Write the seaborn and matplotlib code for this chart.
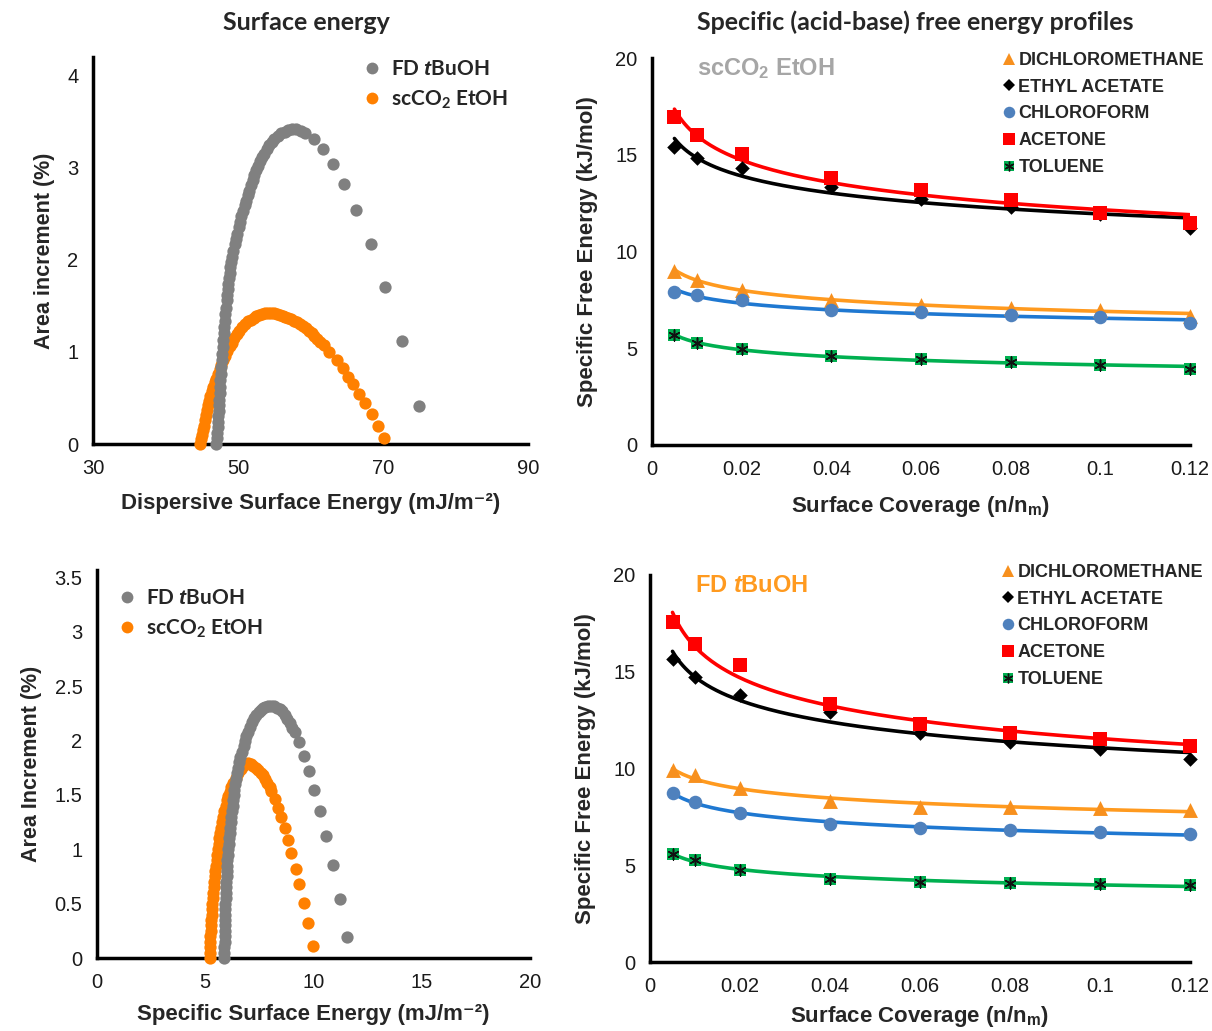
import numpy as np
import pandas as pd
import matplotlib
matplotlib.use('Agg')
import matplotlib.pyplot as plt
import seaborn as sns
from matplotlib.lines import Line2D
from matplotlib.font_manager import FontProperties

# ---- surface energy distributions
# top left: dispersive surface energy, FD tBuOH (grey) and scCO2 EtOH (orange)
tl_fd_x = [47.00, 47.06, 47.12, 47.18, 47.25, 47.30, 47.34, 47.38, 47.42, 47.46, 47.51, 47.56, 47.62,
           47.68, 47.75, 47.82, 47.89, 47.96, 48.04, 48.11, 48.19, 48.27, 48.35, 48.43, 48.51, 48.58,
           48.66, 48.75, 48.84, 48.93, 49.07, 49.21, 49.37, 49.54, 49.72, 49.91, 50.07, 50.24, 50.46,
           50.69, 50.93, 51.16, 51.35, 51.53, 51.76, 52.00, 52.23, 52.46, 52.73, 53.01, 53.31, 53.61,
           53.95, 54.30, 54.65, 55.00, 55.45, 55.93, 56.43, 56.94, 57.47, 58.00, 58.65, 59.30, 60.46,
           61.70, 63.10, 64.60, 66.30, 68.30, 70.30, 72.60, 75.00]
tl_fd_y = [0.00, 0.06, 0.12, 0.18, 0.24, 0.30, 0.36, 0.42, 0.48, 0.55, 0.62, 0.69, 0.76,
           0.84, 0.91, 0.98, 1.05, 1.13, 1.20, 1.27, 1.34, 1.41, 1.48, 1.56, 1.62, 1.68,
           1.74, 1.80, 1.86, 1.92, 1.98, 2.03, 2.10, 2.17, 2.23, 2.28, 2.35, 2.41, 2.47,
           2.53, 2.59, 2.64, 2.70, 2.75, 2.81, 2.86, 2.92, 2.97, 3.02, 3.07, 3.11, 3.15,
           3.20, 3.24, 3.28, 3.31, 3.34, 3.37, 3.39, 3.41, 3.42, 3.42, 3.40, 3.37, 3.31,
           3.20, 3.04, 2.82, 2.54, 2.17, 1.70, 1.12, 0.41]
tl_sc_x = [44.80, 44.90, 45.00, 45.12, 45.25, 45.38, 45.52, 45.67, 45.83, 46.00, 46.18, 46.37, 46.57,
           46.78, 47.00, 47.23, 47.47, 47.72, 47.98, 48.25, 48.55, 48.85, 49.17, 49.50, 49.85, 50.20,
           50.57, 50.95, 51.35, 51.75, 52.15, 52.55, 52.95, 53.35, 53.75, 54.15, 54.55, 54.95, 55.35,
           55.75, 56.15, 56.55, 56.95, 57.35, 57.75, 58.15, 58.55, 58.95, 59.35, 59.75, 60.15, 60.55,
           60.95, 61.35, 61.80, 62.60, 63.60, 64.50, 65.20, 65.90, 66.70, 67.50, 68.50, 69.35, 70.10]
tl_sc_y = [0.00, 0.05, 0.10, 0.15, 0.20, 0.26, 0.31, 0.37, 0.42, 0.47, 0.52, 0.57, 0.62,
           0.67, 0.71, 0.76, 0.81, 0.86, 0.91, 0.96, 1.01, 1.06, 1.10, 1.15, 1.19, 1.23,
           1.27, 1.30, 1.33, 1.35, 1.37, 1.39, 1.40, 1.41, 1.42, 1.42, 1.42, 1.42, 1.41,
           1.40, 1.39, 1.38, 1.37, 1.36, 1.34, 1.32, 1.30, 1.28, 1.26, 1.23, 1.20, 1.17,
           1.14, 1.11, 1.07, 1.00, 0.91, 0.82, 0.73, 0.65, 0.54, 0.44, 0.33, 0.19, 0.07]

# bottom left: specific surface energy
bl_fd_x = [5.870, 5.877, 5.885, 5.890, 5.895, 5.900, 5.905, 5.912, 5.920, 5.927, 5.935, 5.942, 5.950,
           5.960, 5.970, 5.982, 5.995, 6.007, 6.020, 6.040, 6.060, 6.085, 6.110, 6.135, 6.160, 6.185,
           6.210, 6.235, 6.260, 6.290, 6.320, 6.350, 6.380, 6.420, 6.460, 6.510, 6.560, 6.620, 6.700,
           6.780, 6.830, 6.900, 6.980, 7.060, 7.150, 7.250, 7.360, 7.470, 7.570, 7.670, 7.780, 7.900,
           8.050, 8.180, 8.310, 8.440, 8.560, 8.670, 8.780, 8.900, 9.020, 9.140, 9.320, 9.550, 9.770,
           10.030, 10.290, 10.570, 10.880, 11.220, 11.570]
bl_fd_y = [0.00, 0.05, 0.10, 0.15, 0.20, 0.25, 0.30, 0.35, 0.40, 0.45, 0.50, 0.55, 0.60,
           0.65, 0.70, 0.75, 0.80, 0.85, 0.90, 0.95, 1.00, 1.05, 1.10, 1.15, 1.20, 1.25,
           1.30, 1.35, 1.40, 1.45, 1.50, 1.55, 1.60, 1.65, 1.70, 1.75, 1.80, 1.85, 1.90,
           1.95, 2.00, 2.04, 2.08, 2.13, 2.17, 2.21, 2.24, 2.265, 2.285, 2.30, 2.31, 2.32,
           2.32, 2.315, 2.30, 2.29, 2.27, 2.24, 2.20, 2.16, 2.12, 2.08, 1.99, 1.86, 1.72,
           1.55, 1.35, 1.12, 0.86, 0.54, 0.19]
bl_sc_x = [5.200, 5.205, 5.215, 5.225, 5.235, 5.245, 5.253, 5.270, 5.290, 5.310, 5.330, 5.345, 5.360,
           5.385, 5.410, 5.440, 5.470, 5.495, 5.525, 5.555, 5.585, 5.615, 5.650, 5.700, 5.740, 5.780,
           5.820, 5.880, 5.940, 6.000, 6.060, 6.130, 6.210, 6.290, 6.400, 6.520, 6.630, 6.750, 6.870,
           6.980, 7.100, 7.210, 7.330, 7.440, 7.560, 7.670, 7.770, 7.870, 7.970, 8.060, 8.210, 8.370,
           8.520, 8.670, 8.830, 8.980, 9.170, 9.340, 9.570, 9.750, 9.980]
bl_sc_y = [0.00, 0.05, 0.10, 0.15, 0.20, 0.25, 0.30, 0.35, 0.40, 0.45, 0.50, 0.55, 0.60,
           0.65, 0.70, 0.75, 0.80, 0.85, 0.90, 0.95, 1.00, 1.05, 1.10, 1.15, 1.20, 1.25,
           1.30, 1.35, 1.40, 1.45, 1.49, 1.53, 1.57, 1.61, 1.66, 1.70, 1.74, 1.77, 1.785,
           1.79, 1.785, 1.77, 1.75, 1.73, 1.705, 1.68, 1.645, 1.61, 1.575, 1.54, 1.46, 1.38,
           1.30, 1.20, 1.09, 0.97, 0.82, 0.68, 0.51, 0.32, 0.11]

# ---- specific free energy profiles (kJ/mol) vs surface coverage
coverage = [0.005, 0.01, 0.02, 0.04, 0.06, 0.08, 0.1, 0.12]
probes = ['DICHLOROMETHANE', 'ETHYL ACETATE', 'CHLOROFORM', 'ACETONE', 'TOLUENE']

sc_dcm = [9.00, 8.54, 8.03, 7.51, 7.26, 7.08, 6.96, 6.69]
sc_ea = [15.40, 14.84, 14.29, 13.34, 12.69, 12.32, 11.94, 11.20]
sc_chl = [7.91, 7.74, 7.48, 6.96, 6.85, 6.71, 6.60, 6.28]
sc_ace = [16.95, 16.00, 15.03, 13.81, 13.17, 12.66, 12.00, 11.49]
sc_tol = [5.66, 5.29, 4.94, 4.60, 4.43, 4.31, 4.13, 3.95]

fd_dcm = [9.91, 9.66, 9.00, 8.33, 8.02, 8.02, 7.95, 7.88]
fd_ea = [15.66, 14.71, 13.79, 12.93, 11.84, 11.38, 11.00, 10.48]
fd_chl = [8.74, 8.28, 7.72, 7.12, 6.90, 6.84, 6.72, 6.60]
fd_ace = [17.55, 16.43, 15.34, 13.33, 12.28, 11.84, 11.55, 11.17]
fd_tol = [5.60, 5.26, 4.78, 4.31, 4.14, 4.10, 4.02, 3.97]

GREY = '#808080'
ORANGE = '#FF8000'

sns.set_theme(style='white')
plt.rcParams['font.family'] = ['Liberation Sans', 'DejaVu Sans']
plt.rcParams['mathtext.fontset'] = 'custom'
plt.rcParams['mathtext.it'] = 'Liberation Sans:italic:bold'
plt.rcParams['mathtext.rm'] = 'Liberation Sans'
plt.rcParams['mathtext.bf'] = 'Liberation Sans:bold'

W, H = 1212, 1031
fig = plt.figure(figsize=(W / 100, H / 100), dpi=100)


def px_axes(x0, x1, y_bottom, y_top):
    return fig.add_axes([x0 / W, (H - y_bottom) / H, (x1 - x0) / W, (y_bottom - y_top) / H])


ax_tl = px_axes(93, 528, 444, 57)
ax_bl = px_axes(97, 530, 958, 570)
ax_tr = px_axes(652, 1190, 445, 58)
ax_br = px_axes(650, 1190, 962, 575)


def style_axis(ax):
    for s in ['top', 'right']:
        ax.spines[s].set_visible(False)
    for s in ['left', 'bottom']:
        ax.spines[s].set_linewidth(2.5)
        ax.spines[s].set_color('black')
    ax.tick_params(axis='both', direction='out', length=4.5, width=2.2, colors='black',
                   labelsize=14.5, labelcolor='#1a1a1a', pad=6)
    ax.grid(False)


calibri = FontProperties(family=['Lato', 'DejaVu Sans'], weight='bold', size=15)
label_font = dict(fontweight='bold', family=['Liberation Sans', 'DejaVu Sans'])


def energy_panel(ax, fd_x, fd_y, sc_x, sc_y, xlim, xticks, ylim, yticks, xlabel, ylabel, leg_anchor, xpad):
    sns.scatterplot(x=sc_x, y=sc_y, ax=ax, color=ORANGE, s=78, linewidth=0, clip_on=False, zorder=3)
    sns.scatterplot(x=fd_x, y=fd_y, ax=ax, color=GREY, s=78, linewidth=0, clip_on=False, zorder=4)
    ax.set_xlim(*xlim)
    ax.set_ylim(*ylim)
    ax.set_xticks(xticks)
    ax.set_yticks(yticks)
    ax.set_yticklabels(['{:g}'.format(t) for t in yticks])
    style_axis(ax)
    ax.set_xlabel(xlabel, fontsize=16, labelpad=xpad, **label_font)
    ax.set_ylabel(ylabel, fontsize=15.5, labelpad=9, **label_font)
    handles = [Line2D([], [], marker='o', ls='none', color=GREY, markersize=8.5, markeredgewidth=0),
               Line2D([], [], marker='o', ls='none', color=ORANGE, markersize=8.5, markeredgewidth=0)]
    ax.legend(handles, ['FD $\\mathit{t}$BuOH', 'scCO$_\\mathregular{2}$ EtOH'], loc='upper left',
              bbox_to_anchor=leg_anchor, bbox_transform=fig.transFigure, frameon=False, prop=calibri,
              handlelength=0.6, handletextpad=0.6, borderpad=0, borderaxespad=0, labelspacing=0.45)


energy_panel(ax_tl, tl_fd_x, tl_fd_y, tl_sc_x, tl_sc_y, (30, 90), [30, 50, 70, 90], (0, 4.2),
             [0, 1, 2, 3, 4], 'Dispersive Surface Energy (mJ/m\u207b\u00b2)', 'Area increment (%)',
             (366 / W, 1 - 59 / H), 11)
energy_panel(ax_bl, bl_fd_x, bl_fd_y, bl_sc_x, bl_sc_y, (0, 20), [0, 5, 10, 15, 20], (0, 3.57),
             [0, 0.5, 1, 1.5, 2, 2.5, 3, 3.5], 'Specific Surface Energy (mJ/m\u207b\u00b2)',
             'Area Increment (%)', (121 / W, 1 - 588 / H), 9)

# probe styles: marker, marker colour, line colour, marker size
probe_style = {
    'DICHLOROMETHANE': ('^', '#F7901E', '#FF9A1F', 115),
    'ETHYL ACETATE': ('D', 'black', 'black', 55),
    'CHLOROFORM': ('o', '#4F81BD', '#1F78D1', 95),
    'ACETONE': ('s', '#FF0000', '#FF0000', 88),
    'TOLUENE': ('s', '#00B050', '#00B050', 72),
}


def profile_panel(ax, series, tag, tag_color, leg_anchor, xpad):
    grid = np.linspace(coverage[0], coverage[-1], 200)
    for name in probes:
        vals = np.array(series[name])
        b, loga = np.polyfit(np.log(coverage), np.log(vals), 1)
        fit = np.exp(loga) * grid ** b
        mk, mc, lc, ms = probe_style[name]
        sns.lineplot(x=grid, y=fit, ax=ax, color=lc, linewidth=2.6, zorder=2)
        sns.scatterplot(x=coverage, y=vals, ax=ax, marker=mk, color=mc, s=ms, linewidth=0,
                        clip_on=False, zorder=3)
        if name == 'TOLUENE':
            sns.scatterplot(x=coverage, y=vals, ax=ax, marker=(6, 2, 0), color='#111111', s=60,
                            linewidth=1.1, clip_on=False, zorder=4)
    ax.set_xlim(0, 0.12)
    ax.set_ylim(0, 20)
    ax.set_xticks([0, 0.02, 0.04, 0.06, 0.08, 0.1, 0.12])
    ax.set_xticklabels(['0', '0.02', '0.04', '0.06', '0.08', '0.1', '0.12'])
    ax.set_yticks([0, 5, 10, 15, 20])
    style_axis(ax)
    ax.set_xlabel('Surface Coverage (n/n$_\\mathregular{m}$)', fontsize=16, labelpad=xpad, **label_font)
    ax.set_ylabel('Specific Free Energy (kJ/mol)', fontsize=16, labelpad=12, **label_font)
    ax.text(0.084, 0.972, tag, transform=ax.transAxes, fontsize=17, fontweight='bold', color=tag_color,
            ha='left', va='center')
    handles = []
    for name in probes:
        mk, mc, lc, ms = probe_style[name]
        h = Line2D([], [], marker=mk, ls='none', color=mc, markersize=np.sqrt(ms) * 0.85, markeredgewidth=0)
        if name == 'TOLUENE':
            h = (h, Line2D([], [], marker=(6, 2, 0), ls='none', color='#111111', markersize=7,
                           markeredgewidth=1.0))
        handles.append(h)
    ax.legend(handles, probes, loc='upper left', bbox_to_anchor=leg_anchor, bbox_transform=fig.transFigure,
              frameon=False, prop=FontProperties(family=['Liberation Sans', 'DejaVu Sans'], weight='bold', size=13),
              handlelength=0.7, handletextpad=0.15, borderpad=0, borderaxespad=0, labelspacing=0.54)


sc_series = dict(zip(probes, [sc_dcm, sc_ea, sc_chl, sc_ace, sc_tol]))
fd_series = dict(zip(probes, [fd_dcm, fd_ea, fd_chl, fd_ace, fd_tol]))
profile_panel(ax_tr, sc_series, 'scCO$_\\mathregular{2}$ EtOH', '#A6A6A6', (1003 / W, 1 - 52 / H), 11)
profile_panel(ax_br, fd_series, 'FD $\\mathit{t}$BuOH', '#FF9A1F', (1002 / W, 1 - 564 / H), 6)

title_font = FontProperties(family=['Lato', 'DejaVu Sans'], weight='bold', size=18)
fig.text(306 / W, 1 - 22 / H, 'Surface energy', ha='center', va='center', fontproperties=title_font)
fig.text(915 / W, 1 - 22 / H, 'Specific (acid-base) free energy profiles', ha='center', va='center',
         fontproperties=title_font)

fig.savefig('out.png', dpi=100, facecolor='white')
